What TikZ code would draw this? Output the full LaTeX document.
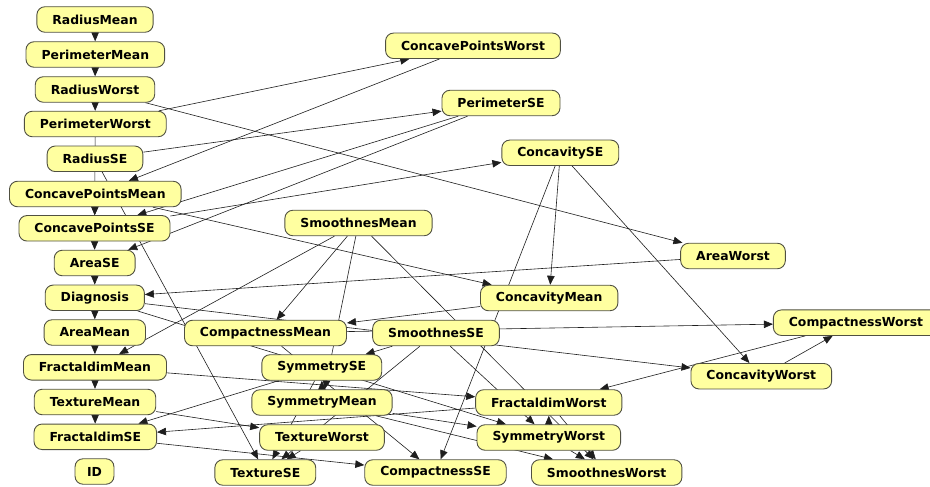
\documentclass[tikz,border=0pt]{standalone}
\usepackage{fontspec}
\setmainfont{DejaVu Sans}
\usetikzlibrary{arrows.meta}
\pgfdeclarelayer{background}
\pgfsetlayers{background,main}
\definecolor{nodefill}{RGB}{255,255,160}
\definecolor{nodeline}{RGB}{80,80,65}
\definecolor{edgeline}{RGB}{30,30,30}
\begin{document}
\begin{tikzpicture}[x=1bp,y=-1bp,
  var/.style={draw=nodeline, line width=0.9bp, fill=nodefill, rounded corners=8bp,
    inner xsep=15.5bp, inner ysep=0pt, minimum height=25.5bp,
    font=\bfseries\fontsize{12.4bp}{14bp}\selectfont},
  link/.style={draw=edgeline, line width=0.6bp, -{Triangle[length=9bp,width=7.5bp]}}]
\useasboundingbox (0,0) rectangle (930,487);

% left column
\node[var] (RadiusMean)        at (95,19.5)   {RadiusMean};
\node[var] (PerimeterMean)     at (95.3,54.5) {PerimeterMean};
\node[var] (RadiusWorst)       at (95,89.5)   {RadiusWorst};
\node[var] (PerimeterWorst)    at (95.3,124)  {PerimeterWorst};
\node[var] (RadiusSE)          at (95,158.8)  {RadiusSE};
\node[var] (ConcavePointsMean) at (95.3,194)  {ConcavePointsMean};
\node[var] (ConcavePointsSE)   at (94.5,228.3){ConcavePointsSE};
\node[var] (AreaSE)            at (94.7,263)  {AreaSE};
\node[var] (Diagnosis)         at (94.8,297.8){Diagnosis};
\node[var] (AreaMean)          at (94.8,332.5){AreaMean};
\node[var] (FractaldimMean)    at (95,367.3)  {FractaldimMean};
\node[var] (TextureMean)       at (95,402)    {TextureMean};
\node[var] (FractaldimSE)      at (95.3,436.8){FractaldimSE};
\node[var, inner xsep=12bp] (ID) at (94.5,471.5) {ID};

% remaining variables
\node[var] (ConcavePointsWorst) at (473,45.8)   {ConcavePointsWorst};
\node[var] (PerimeterSE)        at (501,103)    {PerimeterSE};
\node[var] (ConcavitySE)        at (560.3,152.8){ConcavitySE};
\node[var] (SmoothnesMean)      at (358.5,223)  {SmoothnesMean};
\node[var] (AreaWorst)          at (733,256)    {AreaWorst};
\node[var] (ConcavityMean)      at (549.2,298)  {ConcavityMean};
\node[var] (CompactnessMean)    at (265.5,333)  {CompactnessMean};
\node[var] (SmoothnesSE)        at (436,333)    {SmoothnesSE};
\node[var] (CompactnessWorst)   at (856,322.7)  {CompactnessWorst};
\node[var] (SymmetrySE)         at (321.8,367.5){SymmetrySE};
\node[var] (ConcavityWorst)     at (761.3,376.2){ConcavityWorst};
\node[var] (SymmetryMean)       at (322,402.5)  {SymmetryMean};
\node[var] (FractaldimWorst)    at (548.8,402.5){FractaldimWorst};
\node[var] (TextureWorst)       at (322,437.5)  {TextureWorst};
\node[var] (SymmetryWorst)      at (548.8,437.5){SymmetryWorst};
\node[var] (TextureSE)          at (265.3,472.5){TextureSE};
\node[var] (CompactnessSE)      at (435.5,472.5){CompactnessSE};
\node[var] (SmoothnesWorst)     at (606.7,472.5){SmoothnesWorst};

\begin{pgfonlayer}{background}
\fill[white] (0,0) rectangle (930,487);
\foreach \a/\b in {
  RadiusMean/PerimeterMean, PerimeterMean/RadiusWorst, RadiusWorst/PerimeterWorst,
  PerimeterWorst/ConcavePointsWorst, RadiusWorst/AreaWorst, RadiusSE/PerimeterSE,
  ConcavePointsWorst/ConcavePointsMean, PerimeterSE/ConcavePointsSE, PerimeterSE/AreaSE,
  PerimeterWorst/ConcavePointsSE, ConcavePointsMean/ConcavePointsSE, ConcavePointsSE/AreaSE,
  AreaSE/Diagnosis, Diagnosis/AreaMean, AreaMean/FractaldimMean,
  FractaldimMean/TextureMean, TextureMean/FractaldimSE,
  ConcavePointsSE/ConcavitySE, ConcavePointsMean/ConcavityMean,
  ConcavitySE/ConcavityMean, ConcavitySE/ConcavityWorst, ConcavitySE/CompactnessSE,
  AreaWorst/Diagnosis, SmoothnesMean/FractaldimMean, SmoothnesMean/CompactnessMean,
  SmoothnesMean/SymmetryMean, SmoothnesMean/SmoothnesWorst, ConcavityMean/CompactnessMean,
  Diagnosis/ConcavityWorst, Diagnosis/SymmetryWorst, CompactnessMean/CompactnessWorst,
  CompactnessMean/CompactnessSE, ConcavityWorst/CompactnessWorst, CompactnessWorst/FractaldimWorst,
  SmoothnesSE/SymmetrySE, SmoothnesSE/TextureSE, SmoothnesSE/SymmetryWorst,
  RadiusSE/TextureSE, FractaldimMean/FractaldimWorst, SymmetrySE/FractaldimSE,
  TextureMean/TextureWorst, FractaldimSE/CompactnessSE, FractaldimWorst/FractaldimSE,
  SymmetryMean/SymmetrySE, SymmetrySE/TextureSE, TextureWorst/TextureSE,
  SymmetryMean/SymmetryWorst, SymmetryMean/SmoothnesWorst, SymmetryWorst/FractaldimWorst,
  FractaldimWorst/SmoothnesWorst, SymmetryWorst/SmoothnesWorst}
  \draw[link] (\a) -- (\b);
\end{pgfonlayer}
\end{tikzpicture}
\end{document}
